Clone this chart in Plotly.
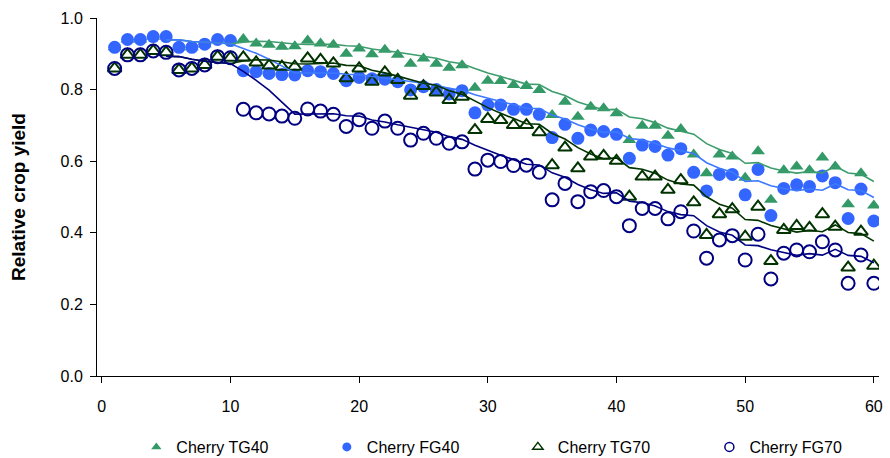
import pandas as pd
import plotly.graph_objects as go

# Day index shared by all four series
days = list(range(1, 61))

cherry_tg40 = [0.918, 0.940, 0.940, 0.948, 0.948, 0.918, 0.918, 0.927, 0.940, 0.937,
               0.941, 0.929, 0.925, 0.920, 0.921, 0.937, 0.929, 0.925, 0.900, 0.915,
               0.899, 0.911, 0.897, 0.872, 0.887, 0.872, 0.861, 0.868, 0.805, 0.825,
               0.824, 0.813, 0.810, 0.799, 0.729, 0.766, 0.724, 0.752, 0.748, 0.734,
               0.659, 0.699, 0.699, 0.671, 0.690, 0.619, 0.566, 0.619, 0.613, 0.554,
               0.628, 0.492, 0.575, 0.585, 0.575, 0.610, 0.585, 0.480, 0.566, 0.476]

cherry_fg40 = [0.918, 0.940, 0.940, 0.948, 0.948, 0.918, 0.918, 0.927, 0.940, 0.937,
               0.853, 0.850, 0.845, 0.842, 0.841, 0.853, 0.850, 0.845, 0.825, 0.834,
               0.830, 0.829, 0.822, 0.799, 0.808, 0.800, 0.788, 0.797, 0.735, 0.757,
               0.757, 0.745, 0.745, 0.731, 0.666, 0.703, 0.664, 0.687, 0.683, 0.675,
               0.608, 0.645, 0.641, 0.617, 0.635, 0.569, 0.517, 0.563, 0.563, 0.506,
               0.577, 0.448, 0.524, 0.534, 0.529, 0.559, 0.540, 0.440, 0.522, 0.433]

cherry_tg70 = [0.859, 0.897, 0.897, 0.908, 0.904, 0.855, 0.859, 0.869, 0.892, 0.889,
               0.890, 0.876, 0.867, 0.864, 0.864, 0.887, 0.883, 0.873, 0.832, 0.859,
               0.822, 0.848, 0.827, 0.783, 0.810, 0.792, 0.771, 0.780, 0.687, 0.718,
               0.715, 0.701, 0.701, 0.681, 0.589, 0.638, 0.580, 0.613, 0.615, 0.601,
               0.501, 0.557, 0.557, 0.520, 0.547, 0.485, 0.394, 0.452, 0.466, 0.389,
               0.473, 0.321, 0.408, 0.419, 0.414, 0.452, 0.417, 0.303, 0.403, 0.308]

cherry_fg70 = [0.859, 0.897, 0.897, 0.908, 0.904, 0.855, 0.859, 0.869, 0.892, 0.889,
               0.745, 0.735, 0.732, 0.726, 0.720, 0.746, 0.740, 0.731, 0.697, 0.716,
               0.692, 0.712, 0.692, 0.659, 0.678, 0.664, 0.650, 0.654, 0.578, 0.603,
               0.599, 0.588, 0.589, 0.569, 0.492, 0.538, 0.487, 0.515, 0.518, 0.501,
               0.420, 0.468, 0.468, 0.439, 0.459, 0.405, 0.329, 0.380, 0.392, 0.324,
               0.396, 0.271, 0.343, 0.352, 0.347, 0.375, 0.352, 0.259, 0.338, 0.259]

x_ticks = [0, 10, 20, 30, 40, 50, 60]
y_ticks = [0.0, 0.2, 0.4, 0.6, 0.8, 1.0]

# 5-period trailing moving-average trendlines
MA_PERIOD = 5

FONT = "Liberation Sans, Arial, sans-serif"

series = [
    # name, values, marker symbol, marker colour, trendline colour, filled, legend id, legend x
    ("Cherry TG40", cherry_tg40, "triangle-up", "#339966", "#3d9d6d", True, "legend", 0.0503),
    ("Cherry FG40", cherry_fg40, "circle", "#3366FF", "#3d79ff", True, "legend2", 0.2939),
    ("Cherry TG70", cherry_tg70, "triangle-up-open", "#003300", "#003300", False, "legend3", 0.5382),
    ("Cherry FG70", cherry_fg70, "circle-open", "#000080", "#000080", False, "legend4", 0.7831),
]

fig = go.Figure()

for name, vals, sym, col, _, filled, _, _ in series:
    size = 13 if "circle" in sym else 12
    marker = dict(symbol=sym, size=size, color=col)
    marker["line"] = dict(width=0) if filled else dict(width=2, color=col)
    fig.add_trace(go.Scatter(x=days, y=vals, mode="markers", marker=marker,
                             name=name, showlegend=False, hoverinfo="x+y"))

for name, vals, sym, col, lcol, filled, _, _ in series:
    trend = pd.Series(vals, index=days).rolling(MA_PERIOD).mean()
    fig.add_trace(go.Scatter(x=trend.index.tolist(), y=trend.tolist(), mode="lines",
                             line=dict(color=lcol, width=1.6),
                             showlegend=False, hoverinfo="skip"))

# One legend per series so each entry sits at its own position
legend_layout = {}
for name, vals, sym, col, _, filled, leg, lx in series:
    marker = dict(symbol=sym, size=9, color=col)
    marker["line"] = dict(width=0) if filled else dict(width=1.5, color=col)
    fig.add_trace(go.Scatter(x=[None], y=[None], mode="markers", marker=marker,
                             name=name, showlegend=True, legend=leg))
    legend_layout[leg] = dict(
        orientation="h", x=lx, xanchor="left",
        yref="container", y=0.024, yanchor="middle",
        font=dict(family=FONT, size=16, color="black"),
        bgcolor="rgba(0,0,0,0)", borderwidth=0, itemclick=False,
    )

fig.update_layout(
    width=890, height=458,
    margin=dict(l=97, r=7, t=18, b=82),
    paper_bgcolor="white", plot_bgcolor="white",
    font=dict(family=FONT, size=16, color="black"),
    showlegend=True,
    **legend_layout,
)

fig.update_xaxes(
    range=[-0.37, 60.4], tickvals=x_ticks, ticktext=[str(t) for t in x_ticks],
    showline=True, linecolor="black", linewidth=1,
    ticks="outside", ticklen=6, tickcolor="black", tickwidth=1,
    ticklabelstandoff=10, showgrid=False, zeroline=False,
    tickfont=dict(family=FONT, size=16, color="black"),
)
fig.update_yaxes(
    range=[0, 1], tickvals=y_ticks, ticktext=[f"{t:.1f}" for t in y_ticks],
    showline=True, linecolor="black", linewidth=1,
    ticks="outside", ticklen=6, tickcolor="black", tickwidth=1,
    ticklabelstandoff=4, showgrid=False, zeroline=False,
    tickfont=dict(family=FONT, size=16, color="black"),
    title=dict(text="<b>Relative crop yield</b>", standoff=29,
               font=dict(family=FONT, size=19, color="black")),
)

fig.write_html("out.html")
